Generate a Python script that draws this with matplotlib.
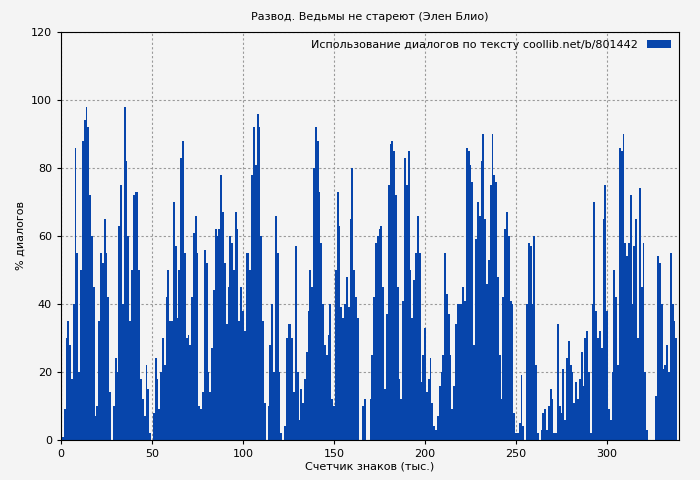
import numpy as np
import matplotlib
matplotlib.use("Agg")
import matplotlib.pyplot as plt

title = "Развод. Ведьмы не стареют (Элен Блио)"
xlabel = "Счетчик знаков (тыс.)"
ylabel = "% диалогов"
legend_label = "Использование диалогов по тексту coollib.net/b/801442"

values = [
 7,1,9,30,35,28,18,40,86,55,20,50,88,94,98,92,72,60,45,7,
 10,35,55,52,65,55,42,14,0,10,24,20,63,75,40,98,82,60,35,50,
 72,73,73,50,18,12,7,22,15,2,0,8,24,18,9,20,30,22,42,50,
 35,35,70,57,36,50,83,88,55,30,31,28,42,61,66,55,10,9,14,56,
 52,20,14,27,44,62,60,62,
 78,67,52,34,45,60,58,50,67,62,35,45,38,32,55,55,50,78,92,81,
 96,92,60,35,11,0,10,28,40,20,66,55,20,2,0,4,30,34,34,30,
 14,57,20,6,15,11,18,26,38,50,45,80,92,88,73,58,40,28,25,31,
 40,12,10,50,73,63,39,36,40,48,39,65,80,50,42,36,0,0,10,12,
 0,0,12,25,42,58,60,62,
 63,45,15,37,75,87,88,85,72,45,18,12,41,83,75,85,50,36,47,55,
 66,55,17,25,33,14,18,24,11,4,3,7,16,20,25,55,43,37,25,9,
 16,34,40,40,40,45,41,86,85,81,76,28,59,70,66,82,90,65,46,53,
 75,90,78,76,48,25,12,42,62,67,60,41,40,8,2,2,5,19,4,0,
 40,58,57,40,60,22,2,0,
 3,8,9,3,10,15,12,2,2,34,10,8,21,6,24,29,22,20,11,17,
 12,18,26,16,30,32,20,2,40,70,38,30,32,27,65,75,38,9,6,20,
 50,42,22,86,85,90,58,54,58,72,40,57,65,30,74,45,58,20,3,0,
 0,0,0,13,54,52,40,21,22,28,20,55,40,35,30,
]
x = np.arange(len(values))

plt.rcParams['font.family'] = ['DejaVu Sans']
fig = plt.figure(figsize=(7, 4.8), dpi=100, facecolor='#f4f4f4')
ax = fig.add_axes([61/700, 40/480, 618/700, 408/480])
ax.set_facecolor('#f4f4f4')
ax.bar(x, values, width=1.0, color='#0745ab', linewidth=0, label=legend_label, zorder=2)
ax.set_xlim(0, 339.5)
ax.set_ylim(0, 120)
ax.set_xticks(np.arange(0, 301, 50))
ax.set_yticks(np.arange(0, 121, 20))
ax.grid(True, color='#999999', linestyle=(0, (2, 2)), linewidth=0.8, zorder=1)
ax.tick_params(labelsize=8, length=3)
ax.set_title(title, fontsize=8, pad=9)
ax.set_xlabel(xlabel, fontsize=8, labelpad=2)
ax.set_ylabel(ylabel, fontsize=8)
for s in ax.spines.values():
    s.set_color('black')
leg = ax.legend(loc='upper right', frameon=False, fontsize=8, handlelength=2.2,
                borderaxespad=0.3, markerfirst=False)
fig.savefig('out.png', dpi=100, facecolor=fig.get_facecolor())
